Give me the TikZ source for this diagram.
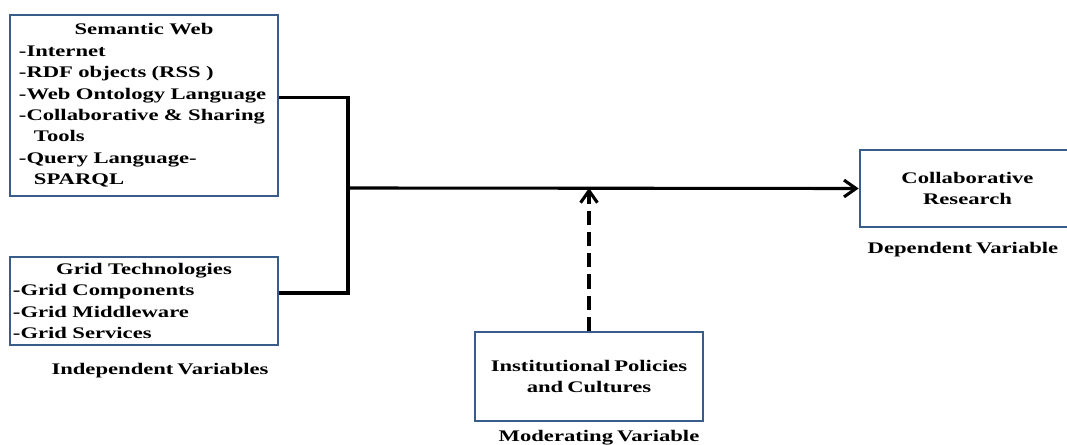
\documentclass[tikz,border=0pt]{standalone}
\usepackage{fontspec}
\setmainfont{Liberation Serif}[FakeStretch=1.4,WordSpace=0.7]
\usetikzlibrary{arrows.meta,positioning}
\definecolor{boxblue}{HTML}{385D8A}

\begin{document}
\begin{tikzpicture}
  [x=0.025cm,y=-0.025cm,
   var/.style={rectangle,draw=boxblue,line width=1.8pt,fill=white,inner ysep=0pt,
     font=\bfseries\fontsize{11.5}{15.2}\selectfont,
     execute at begin node={\hyphenpenalty=10000}},
   lbl/.style={font=\bfseries\fontsize{11.5}{15.2}\selectfont},
   wire/.style={line width=2.2pt},
   flow/.style={-{Straight Barb[length=3mm,width=4.2mm]}}]
  \useasboundingbox (0,0) rectangle (1067,445);
  \node[var,minimum height=4.525cm,text width=6.25cm,inner xsep=0.225cm,align=left] (semweb) at (144,105.5)
    {\hfil Semantic Web\hfil\\-Internet\\-RDF objects (RSS )\\-Web Ontology Language\\-Collaborative \& Sharing\\\hspace*{0.375cm}Tools\\-Query Language-\\\hspace*{0.375cm}SPARQL};
  \node[var,minimum height=2.2cm,text width=6.55cm,inner xsep=0.075cm,align=left] (grid) at (144,301)
    {\hfil Grid Technologies\hfil\\-Grid Components\\-Grid Middleware\\-Grid Services};
  \node[lbl] (indep) at (160,371) {Independent Variables};
  \node[var,minimum width=5.375cm,minimum height=1.925cm,align=center] (collab) at (967.5,188.5) {Collaborative\\Research};
  \node[lbl] (dep) at (963,250) {Dependent Variable};
  \node[var,minimum width=5.7cm,minimum height=2.225cm,align=center] (inst) at (589,376.5) {Institutional Policies\\and Cultures};
  \node[lbl] (mod) at (599,438) {Moderating Variable};
  \coordinate (join) at (348,188);
  \coordinate (modjoin) at (inst.north |- join);
  \draw [wire] ([yshift=0.19cm]semweb.east) -| (join);
  \draw [wire] ([yshift=0.2cm]grid.east) -| (join);
  \draw [wire,flow] (join) -- (collab.west);
  \draw [wire,flow,dash pattern=on 10pt off 5pt] (inst.north) -- (modjoin);
\end{tikzpicture}
\end{document}
